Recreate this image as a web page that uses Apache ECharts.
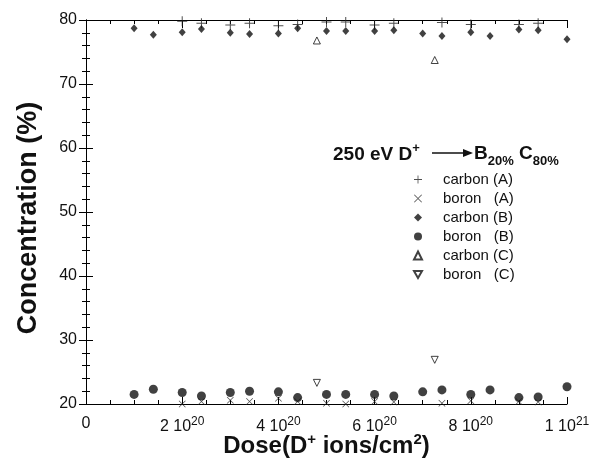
<!DOCTYPE html>
<html><head><meta charset="utf-8">
<script src="https://cdn.jsdelivr.net/npm/echarts@6/dist/echarts.min.js"></script>
<style>html,body{margin:0;padding:0;background:#fff}#c{width:601px;height:461px}</style>
</head><body><div id="c"></div>
<script>
// Dose in units of 1e20 D+ ions/cm^2
var doseB = [1.0,1.4,2.0,2.4,3.0,3.4,4.0,4.4,5.0,5.4,6.0,6.4,7.0,7.4,8.0,8.4,9.0,9.4,10.0];
var carbonB = [78.7,77.7,78.1,78.6,78.0,77.8,77.9,78.7,78.3,78.3,78.3,78.4,77.9,77.5,78.1,77.5,78.5,78.4,77.0];
var boronB = [21.5,22.3,21.8,21.25,21.8,22.0,21.9,21.0,21.5,21.5,21.5,21.25,21.9,22.2,21.5,22.2,21.0,21.1,22.7];
var doseA = [2.0,2.4,3.0,3.4,4.0,4.4,5.0,5.4,6.0,6.4,7.4,8.0,9.0,9.4];
var carbonA = [79.8,79.5,79.2,79.5,79.1,79.3,79.7,79.7,79.2,79.5,79.6,79.3,79.3,79.5];
var boronA = [20.0,20.4,20.6,20.4,20.9,20.4,20.1,20.0,20.4,20.3,20.1,20.5,20.4,20.3];
var doseC = [4.8,7.25];
var carbonC = [76.8,73.75];
var boronC = [23.3,26.9];
var xTicks = [0,2,4,6,8,10];
var seriesNames = ['carbon (A)','boron   (A)','carbon (B)','boron   (B)','carbon (C)','boron   (C)'];

function pairs(xs, ys){ return xs.map(function(x,i){return [x, ys[i]];}); }
var plusPath = 'path://M4.5,0h1v10h-1z M0,4.5h10v1h-10z';
var crossPath = 'path://M0,0.7L0.7,0L10,9.3L9.3,10Z M9.3,0L10,0.7L0.7,10L0,9.3Z';
var downTri = 'path://M0,0L10,0L5,8.7Z';
var font = '"Liberation Sans", Arial, sans-serif';

var chart = echarts.init(document.getElementById('c'), null, {renderer:'canvas'});
var axisCommon = {
  axisLine:{show:true, lineStyle:{color:'#000', width:1}},
  splitLine:{show:false}
};
chart.setOption({
  animation:false,
  backgroundColor:'#fff',
  grid:{left:86, right:34, top:20, bottom:57, containLabel:false, outerBoundsMode:'none'},
  legend:{
    orient:'vertical', left:408, top:167, itemGap:4, itemWidth:8, itemHeight:8,
    data: seriesNames,
    textStyle:{fontFamily:font, fontSize:15, color:'#111', padding:[0,0,0,16]}
  },
  xAxis:[
    Object.assign({type:'value', min:0, max:10, interval:2, position:'bottom',
      axisTick:{inside:true, length:7, lineStyle:{color:'#000'}},
      minorTick:{show:true, splitNumber:4, length:4, lineStyle:{color:'#000'}},
      axisLabel:{margin:12, fontFamily:font, fontSize:16, color:'#111',
        formatter:function(v){ if(v===0) return '0'; if(v===10) return '1 10{s|21}'; return v+' 10{s|20}'; },
        rich:{s:{fontSize:12, fontFamily:font, color:'#111', verticalAlign:'top', padding:[0,0,10,0]}}},
      name:'Dose(D{s|+} ions/cm{s|2})', nameLocation:'middle', nameGap:28, nameMoveOverlap:false,
      nameTextStyle:{fontFamily:font, fontSize:24, fontWeight:'bold', color:'#111',
        rich:{s:{fontSize:15, fontWeight:'bold', fontFamily:font, color:'#111', padding:[0,0,13,0]}}}
    }, axisCommon),
    Object.assign({type:'value', min:0, max:10, interval:2, position:'top',
      axisTick:{inside:true, length:8, lineStyle:{color:'#000'}},
      minorTick:{show:true, splitNumber:4, length:4, lineStyle:{color:'#000'}},
      axisLabel:{show:false}}, axisCommon)
  ],
  yAxis:[
    Object.assign({type:'value', min:20, max:80, interval:10, position:'left',
      axisTick:{inside:true, length:7, lineStyle:{color:'#000'}},
      minorTick:{show:true, splitNumber:5, length:4, lineStyle:{color:'#000'}},
      axisLabel:{margin:9, fontFamily:font, fontSize:16, color:'#111'},
      name:'Concentration (%)', nameLocation:'middle', nameGap:44, nameRotate:90, nameMoveOverlap:false,
      nameTextStyle:{fontFamily:font, fontSize:27, fontWeight:'bold', color:'#111', padding:[0,12,0,0]}
    }, axisCommon),
    Object.assign({type:'value', min:20, max:80, interval:10, position:'right',
      axisTick:{inside:true, length:7, lineStyle:{color:'#000'}},
      minorTick:{show:true, splitNumber:5, length:4, lineStyle:{color:'#000'}},
      axisLabel:{show:false}}, axisCommon)
  ],
  series:[
    {name:seriesNames[0], type:'scatter', data:pairs(doseA, carbonA), symbol:plusPath, symbolSize:10,
      itemStyle:{color:'#222'}},
    {name:seriesNames[1], type:'scatter', data:pairs(doseA, boronA), symbol:crossPath, symbolSize:7,
      itemStyle:{color:'#222'}},
    {name:seriesNames[2], type:'scatter', data:pairs(doseB, carbonB), symbol:'diamond', symbolSize:[7,8],
      itemStyle:{color:'#111'}},
    {name:seriesNames[3], type:'scatter', data:pairs(doseB, boronB), symbol:'circle', symbolSize:9,
      itemStyle:{color:'#111'}},
    {name:seriesNames[4], type:'scatter', data:pairs(doseC, carbonC), symbol:'triangle', symbolSize:7,
      itemStyle:{color:'#fff', borderColor:'#111', borderWidth:1}},
    {name:seriesNames[5], type:'scatter', data:pairs(doseC, boronC), symbol:downTri, symbolSize:7,
      itemStyle:{color:'#fff', borderColor:'#111', borderWidth:1}}
  ],
  graphic:[
    {type:'text', left:333, top:142, style:{
      text:'250 eV D{s|+}', fontFamily:font, fontSize:19, fontWeight:'bold', fill:'#111',
      rich:{s:{fontSize:13, fontWeight:'bold', fontFamily:font, fill:'#111', padding:[0,0,13,0]}}}},
    {type:'line', shape:{x1:432, y1:153, x2:467, y2:153}, style:{stroke:'#111', lineWidth:1.5}},
    {type:'polygon', shape:{points:[[473,153],[463,149],[463,157]]}, style:{fill:'#111'}},
    {type:'text', left:474, top:144, style:{
      text:'B{b|20%} C{b|80%}', fontFamily:font, fontSize:19, fontWeight:'bold', fill:'#111',
      rich:{b:{fontSize:13, fontWeight:'bold', fontFamily:font, fill:'#111', padding:[15,0,0,0]}}}}
  ]
});
</script></body></html>
